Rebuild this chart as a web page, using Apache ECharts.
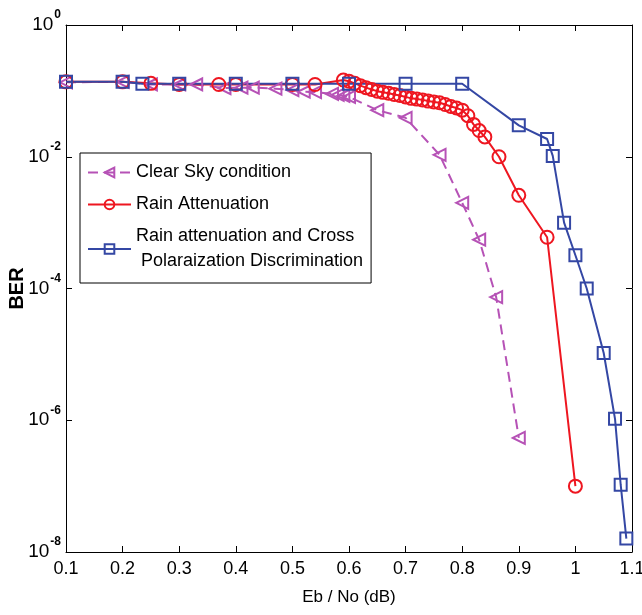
<!DOCTYPE html>
<html>
<head>
<meta charset="utf-8">
<script src="https://cdn.jsdelivr.net/npm/echarts@6/dist/echarts.min.js"></script>
<style>
  html, body { margin: 0; padding: 0; background: #fff; }
  #chart { width: 642px; height: 615px; }
</style>
</head>
<body>
<div id="chart"></div>
<script>
const seriesNames = [
  'Clear Sky condition',
  'Rain Attenuation',
  'Rain attenuation and Cross\n Polaraization Discrimination'
];

// Eb/No (dB) vs BER
const clearX = [0.1, 0.2, 0.25, 0.3, 0.33, 0.38, 0.41, 0.43, 0.47, 0.5, 0.52, 0.54, 0.57, 0.58, 0.59, 0.6, 0.65, 0.7, 0.76, 0.8, 0.83, 0.86, 0.9];
const clearY = [0.135, 0.137, 0.125, 0.125, 0.125, 0.11, 0.112, 0.112, 0.108, 0.103, 0.097, 0.096, 0.09, 0.087, 0.084, 0.081, 0.051, 0.039, 0.0107, 0.002, 0.00055, 0.000074, 5.4e-7];

const rainX = [0.1, 0.2, 0.25, 0.3, 0.37, 0.4, 0.5, 0.54, 0.59, 0.6, 0.61, 0.62, 0.63, 0.64, 0.65, 0.66, 0.67, 0.68, 0.69, 0.7, 0.71, 0.72, 0.73, 0.74, 0.75, 0.76, 0.77, 0.78, 0.79, 0.8, 0.81, 0.82, 0.83, 0.84, 0.865, 0.9, 0.95, 1.0];
const rainY = [0.137, 0.137, 0.13, 0.125, 0.125, 0.125, 0.125, 0.125, 0.146, 0.14, 0.13, 0.12, 0.112, 0.105, 0.099, 0.095, 0.092, 0.088, 0.085, 0.081, 0.077, 0.075, 0.073, 0.07, 0.068, 0.066, 0.062, 0.058, 0.055, 0.051, 0.042, 0.031, 0.025, 0.02, 0.01, 0.0026, 0.0006, 1e-7];

const xpdX = [0.1, 0.2, 0.235, 0.3, 0.4, 0.5, 0.6, 0.7, 0.8, 0.9, 0.95, 0.96, 0.98, 1.0, 1.02, 1.05, 1.07, 1.08, 1.09];
const xpdY = [0.137, 0.137, 0.128, 0.128, 0.128, 0.128, 0.128, 0.128, 0.128, 0.03, 0.0186, 0.0103, 0.001, 0.00032, 0.0001, 0.0000105, 1.05e-6, 1.05e-7, 1.6e-8];

const xTicks = [0.1, 1.1, 0.1];      // min, max, step
const yExtent = [1e-8, 1];

const colors = ['#B652B6', '#EE1620', '#3447A4'];

const pairs = (xs, ys) => xs.map((x, i) => [x, ys[i]]);

const chart = echarts.init(document.getElementById('chart'));

const FONT = "'Liberation Sans', Arial, sans-serif";
const axisFont = { fontFamily: FONT, fontSize: 18, color: '#000' };

const tickStyle = {
  axisLine: { show: true, lineStyle: { color: '#000', width: 1 } },
  axisTick: { show: true, inside: true, length: 6, lineStyle: { color: '#000' } },
  splitLine: { show: false },
  minorTick: { show: false }
};

const option = {
  backgroundColor: '#fff',
  animation: false,
  grid: { left: 66, right: 10, top: 25, bottom: 63, outerBoundsMode: 'none', containLabel: false },
  legend: {
    orient: 'vertical',
    left: 80,
    top: 153,
    backgroundColor: '#fff',
    borderColor: '#000',
    borderWidth: 1,
    padding: [7, 8, 9, 7],
    itemGap: 7,
    itemWidth: 43,
    itemHeight: 12,
    data: seriesNames,
    textStyle: { fontFamily: FONT, fontSize: 18, color: '#000', lineHeight: 25 }
  },
  xAxis: [
    Object.assign({
      type: 'value',
      min: xTicks[0],
      max: xTicks[1],
      interval: xTicks[2],
      name: 'Eb / No (dB)',
      nameLocation: 'middle',
      nameGap: 37,
      nameMoveOverlap: false,
      nameTextStyle: { fontFamily: FONT, fontSize: 17, color: '#000' },
      axisLabel: Object.assign({ margin: 8, formatter: v => String(+v.toFixed(1)) }, axisFont)
    }, tickStyle),
    Object.assign({
      type: 'value',
      position: 'top',
      min: xTicks[0],
      max: xTicks[1],
      interval: xTicks[2],
      axisLabel: { show: false }
    }, tickStyle)
  ],
  yAxis: [
    Object.assign({
      type: 'log',
      logBase: 10,
      min: yExtent[0],
      max: yExtent[1],
      interval: 2,
      name: 'BER',
      nameLocation: 'middle',
      nameGap: 39,
      nameMoveOverlap: false,
      nameTextStyle: { fontFamily: FONT, fontSize: 20, fontWeight: 'bold', color: '#000' },
      axisLabel: {
        margin: 5,
        formatter: v => '{b|10}{s|' + Math.round(Math.log10(v)) + '}',
        rich: {
          b: { fontFamily: FONT, fontSize: 19, color: '#000', verticalAlign: 'middle' },
          s: { fontFamily: FONT, fontSize: 12, fontWeight: 'bold', color: '#000', verticalAlign: 'middle', padding: [0, 0, 20, 1] }
        }
      }
    }, tickStyle),
    Object.assign({
      type: 'log',
      logBase: 10,
      position: 'right',
      min: yExtent[0],
      max: yExtent[1],
      interval: 2,
      axisLabel: { show: false }
    }, tickStyle)
  ],
  series: [
    {
      name: seriesNames[0],
      type: 'line',
      data: pairs(clearX, clearY),
      symbol: 'triangle',
      symbolRotate: 90,
      symbolSize: 12,
      lineStyle: { color: colors[0], width: 2, type: [10, 6] },
      itemStyle: { color: 'rgba(255,255,255,0)', borderColor: colors[0], borderWidth: 2 }
    },
    {
      name: seriesNames[1],
      type: 'line',
      data: pairs(rainX, rainY),
      symbol: 'circle',
      symbolSize: 13,
      lineStyle: { color: colors[1], width: 2 },
      itemStyle: { color: 'rgba(255,255,255,0)', borderColor: colors[1], borderWidth: 2 }
    },
    {
      name: seriesNames[2],
      type: 'line',
      data: pairs(xpdX, xpdY),
      symbol: 'rect',
      symbolSize: 12,
      lineStyle: { color: colors[2], width: 2 },
      itemStyle: { color: 'rgba(255,255,255,0)', borderColor: colors[2], borderWidth: 2 }
    }
  ]
};

chart.setOption(option);
</script>
</body>
</html>
